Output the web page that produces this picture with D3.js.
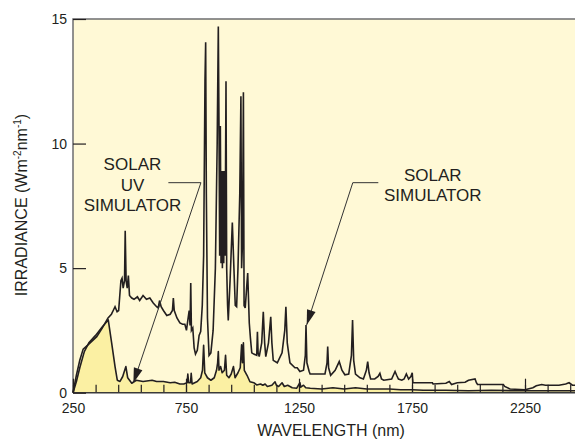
<!DOCTYPE html>
<html>
<head>
<meta charset="utf-8">
<title>Solar simulator irradiance</title>
<script src="https://cdn.jsdelivr.net/npm/d3@7"></script>
<style>
  body { margin: 0; background: #fff; }
  text { font-family: "Liberation Sans", Arial, Helvetica, sans-serif; fill: #231f20; }
</style>
</head>
<body>
<div id="chart"></div>
<script>
// wavelength (nm), irradiance (W m-2 nm-1)
var solarSim = [
  [250,0],[265,0.7],[280,1.3],[295,1.75],[320,1.95],[355,2.25],[380,2.6],[405,3.0],
  [420,3.15],[428,3.3],[436,3.45],[445,3.25],[452,3.3],[462,4.5],[467,4.6],[472,4.2],
  [478,4.5],[481,6.5],[485,4.5],[490,4.2],[495,4.7],[500,3.9],[510,3.8],[520,3.75],
  [535,3.85],[545,3.7],[560,3.9],[575,3.75],[590,3.8],[605,3.6],[620,3.45],[627,3.4],
  [633,3.7],[640,3.45],[650,3.3],[665,3.1],[680,3.15],[690,3.3],[694,3.8],[698,3.3],
  [710,3.0],[723,2.8],[735,2.75],[745,2.75],[752,2.5],[758,2.9],[764,3.3],[768,2.7],
  [771,4.4],[774,2.5],[780,2.6],[786,1.8],[792,1.55],[800,1.7],[808,2.3],[815,2.45],
  [822,3.5],[828,5.5],[834,12.5],[837,14.07],[840,8],[845,3],[852,1.5],[860,1.6],
  [870,2.5],[880,5],[888,10],[893,14.7],[896,10.7],[899,5.5],[902,10.7],[905,5.2],
  [908,8.9],[911,5.0],[914,8.9],[917,5.2],[920,8.9],[923,5.5],[927,12.5],[930,5],
  [934,3.5],[937,2.9],[945,4.5],[955,6.83],[962,5],[968,3.5],[974,3.45],[980,5],
  [988,8],[993,11.9],[996,5],[1000,6],[1004,12.06],[1007,3.5],[1012,3.4],[1023,4.8],
  [1030,2.8],[1035,2.2],[1041,1.6],[1050,1.55],[1063,1.5],[1066,2.45],[1069,1.6],
  [1074,1.45],[1085,2],[1092,3.25],[1098,2],[1103,1.45],[1115,2],[1125,3.05],[1130,2],
  [1136,1.3],[1154,1.2],[1175,1.6],[1187,2.5],[1192,3.45],[1198,2],[1210,1.2],
  [1232,1.0],[1242,1.0],[1254,0.85],[1270,0.9],[1278,1.5],[1281,2.72],[1285,1.2],
  [1295,0.85],[1299,0.75],[1365,0.75],[1374,1.2],[1377,1.85],[1381,1.0],[1390,0.7],
  [1410,0.9],[1428,1.25],[1440,0.9],[1453,0.72],[1470,0.75],[1482,1.5],[1487,2.92],
  [1492,1.3],[1500,0.75],[1520,0.6],[1535,0.55],[1548,0.9],[1554,1.25],[1560,0.8],
  [1567,0.55],[1585,0.55],[1600,0.65],[1608,0.78],[1615,0.55],[1625,0.5],[1660,0.55],
  [1675,0.85],[1682,0.7],[1690,0.55],[1705,0.5],[1715,0.55],[1725,0.75],[1735,0.55],
  [1745,0.65],[1751,0.8],[1754,0.4],[1770,0.4],[1840,0.4],[1843,0.35],[1900,0.38],
  [1915,0.45],[1925,0.33],[1950,0.4],[1985,0.42],[2000,0.5],[2029,0.55],[2035,0.4],
  [2040,0.33],[2154,0.33],[2160,0.25],[2184,0.15],[2250,0.12],[2285,0.2],[2300,0.28],
  [2324,0.33],[2340,0.3],[2400,0.3],[2430,0.35],[2445,0.4],[2460,0.3],[2480,0.3]
];

var uvSim = [
  [250,0],[265,0.45],[280,1.0],[300,1.65],[320,2.0],[350,2.3],[380,2.65],[406,2.92],
  [421,2.0],[436,1.05],[446,0.5],[458,0.45],[470,0.65],[484,1.05],[492,0.6],[510,0.38],
  [530,0.5],[560,0.45],[600,0.5],[620,0.45],[650,0.45],[680,0.4],[700,0.42],[723,0.35],
  [740,0.35],[755,0.4],[758,0.75],[762,0.4],[770,0.4],[773,0.78],[777,0.35],[800,0.45],
  [815,0.6],[823,0.9],[828,1.9],[833,0.8],[845,0.6],[860,0.5],[875,0.6],[885,0.9],
  [890,1.2],[893,1.65],[896,0.9],[903,1.05],[910,0.8],[920,0.9],[925,1.5],[930,0.7],
  [940,0.6],[950,0.75],[960,1.05],[967,0.6],[980,0.8],[990,1.0],[996,1.92],[1000,1.2],
  [1004,2.0],[1008,0.9],[1020,0.7],[1033,0.44],[1050,0.4],[1063,0.31],[1080,0.35],
  [1090,0.3],[1100,0.35],[1110,0.25],[1130,0.3],[1144,0.44],[1150,0.3],[1160,0.25],
  [1175,0.4],[1185,0.25],[1200,0.3],[1220,0.2],[1240,0.18],[1254,0.4],[1258,0.22],
  [1270,0.3],[1280,0.2],[1300,0.18],[1350,0.15],[1400,0.2],[1450,0.15],[1500,0.2],
  [1550,0.15],[1600,0.15],[1650,0.15],[1700,0.12],[1750,0.12],[1800,0.1],[1900,0.1],
  [2000,0.08],[2100,0.1],[2200,0.08],[2300,0.08],[2400,0.08],[2480,0.08]
];

var xTicks = d3.range(250, 2500, 100);
var xLabels = [250, 750, 1250, 1750, 2250];
var yLabels = [0, 5, 10, 15];

// callouts, in data units
var notes = [
  { lines: ["SOLAR", "UV", "SIMULATOR"], at: [513, 8.92], from: [672, 8.43], knee: [816, 8.43], tip: [517, 0.39] },
  { lines: ["SOLAR", "SIMULATOR"], at: [1842, 8.51], from: [1601, 8.43], knee: [1488, 8.43], tip: [1284, 2.72] }
];

var width = 575, height = 441;

var x = d3.scaleLinear().domain([250, 2250]).range([73, 525]);
var y = d3.scaleLinear().domain([0, 15]).range([392.7, 19]);

var svg = d3.select('#chart')
  .append('svg')
  .attr('width', width)
  .attr('height', height);

svg.append('rect')
  .attr('x', x(250)).attr('y', y(15))
  .attr('width', width - x(250)).attr('height', y(0) - y(15))
  .attr('fill', '#fff9d6');

var area = d3.area()
  .x(d => x(d[0]))
  .y0(y(0))
  .y1(d => y(d[1]));

svg.append('path')
  .datum(uvSim)
  .attr('d', area)
  .attr('fill', '#fbf0a3');

// frame (top and left)
svg.append('path')
  .attr('d', 'M' + width + ',' + y(15) + 'H' + x(250) + 'V' + y(0))
  .attr('fill', 'none')
  .attr('stroke', '#6d6e70')
  .attr('stroke-width', 1.5);

// x axis: minor ticks, then labelled ticks
svg.append('g')
  .attr('transform', 'translate(0,' + y(0) + ')')
  .call(d3.axisBottom(x).tickValues(xTicks).tickSize(-8).tickFormat(''))
  .call(g => g.select('.domain').remove())
  .selectAll('line').attr('stroke', '#231f20').attr('stroke-width', 1.2);

var xAxis = svg.append('g')
  .attr('transform', 'translate(0,' + y(0) + ')')
  .call(d3.axisBottom(x).tickValues(xLabels).tickSize(-14).tickPadding(10)
    .tickSizeOuter(0).tickFormat(d3.format('d')));
xAxis.select('.domain').remove();
xAxis.selectAll('line').attr('stroke', '#231f20').attr('stroke-width', 1.2);
xAxis.selectAll('text').attr('font-size', 14).attr('font-family', '"Liberation Sans", Arial, sans-serif').attr('fill', '#231f20');

svg.append('line')
  .attr('x1', x(250)).attr('x2', width)
  .attr('y1', y(0)).attr('y2', y(0))
  .attr('stroke', '#3a3a3a').attr('stroke-width', 1.5);

var yAxis = svg.append('g')
  .attr('transform', 'translate(' + x(250) + ',0)')
  .call(d3.axisLeft(y).tickValues(yLabels).tickSize(-13).tickPadding(6)
    .tickSizeOuter(0).tickFormat(d3.format('d')));
yAxis.select('.domain').remove();
yAxis.selectAll('line').attr('stroke', '#231f20').attr('stroke-width', 1.2);
yAxis.selectAll('text').attr('font-size', 14).attr('font-family', '"Liberation Sans", Arial, sans-serif').attr('fill', '#231f20');

var line = d3.line()
  .x(d => x(d[0]))
  .y(d => y(d[1]));

svg.append('path')
  .datum(uvSim)
  .attr('d', line)
  .attr('fill', 'none')
  .attr('stroke', '#231f20')
  .attr('stroke-width', 1.6)
  .attr('stroke-linejoin', 'round');

svg.append('path')
  .datum(solarSim)
  .attr('d', line)
  .attr('fill', 'none')
  .attr('stroke', '#231f20')
  .attr('stroke-width', 1.6)
  .attr('stroke-linejoin', 'miter');

// callouts
notes.forEach(function(n) {
  var t = svg.append('text')
    .attr('x', x(n.at[0]))
    .attr('y', y(n.at[1]))
    .attr('text-anchor', 'middle')
    .attr('font-size', 17);
  n.lines.forEach(function(s, i) {
    t.append('tspan').attr('x', x(n.at[0])).attr('dy', i ? 20.5 : 0).text(s);
  });

  var tx = x(n.tip[0]), ty = y(n.tip[1]);
  var kx = x(n.knee[0]), ky = y(n.knee[1]);
  svg.append('path')
    .attr('d', 'M' + x(n.from[0]) + ',' + y(n.from[1]) + 'L' + kx + ',' + ky + 'L' + tx + ',' + ty)
    .attr('fill', 'none')
    .attr('stroke', '#333')
    .attr('stroke-width', 1);

  var dx = tx - kx, dy = ty - ky, len = Math.sqrt(dx * dx + dy * dy);
  var ux = dx / len, uy = dy / len;
  var bx = tx - ux * 15, by = ty - uy * 15;
  svg.append('path')
    .attr('d', 'M' + tx + ',' + ty + 'L' + (bx - uy * 4.5) + ',' + (by + ux * 4.5) +
      'L' + (bx + uy * 4.5) + ',' + (by - ux * 4.5) + 'Z')
    .attr('fill', '#231f20');
});

// axis titles
svg.append('text')
  .attr('x', 331).attr('y', 436)
  .attr('text-anchor', 'middle')
  .attr('font-size', 16)
  .text('WAVELENGTH (nm)');

var yt = svg.append('text')
  .attr('transform', 'translate(27,205) rotate(-90)')
  .attr('text-anchor', 'middle')
  .attr('font-size', 16);
yt.append('tspan').text('IRRADIANCE (Wm');
yt.append('tspan').attr('font-size', 10).attr('dy', -6).text('-2');
yt.append('tspan').attr('dy', 6).text('nm');
yt.append('tspan').attr('font-size', 10).attr('dy', -6).text('-1');
yt.append('tspan').attr('dy', 6).text(')');
</script>
</body>
</html>
